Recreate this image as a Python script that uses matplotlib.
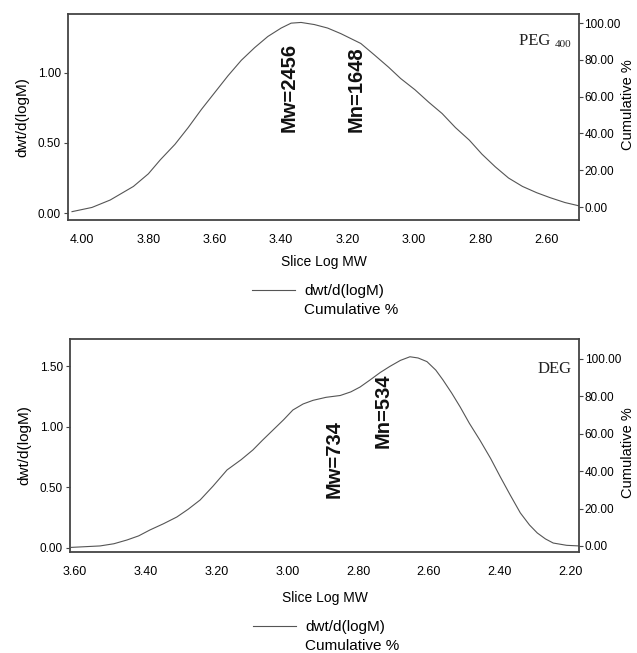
import numpy as np
import matplotlib
matplotlib.use("Agg")
from matplotlib import pyplot as plt
from matplotlib.lines import Line2D
from matplotlib.ticker import FormatStrFormatter

# PEG 400 distribution (slice log MW vs dwt/d(logM))
peg_logm = [4.03, 3.97, 3.915, 3.845, 3.80, 3.764, 3.72, 3.68, 3.64, 3.60, 3.56, 3.52,
            3.48, 3.44, 3.40, 3.37, 3.34, 3.30, 3.26, 3.22, 3.16, 3.12, 3.076, 3.04, 2.997,
            2.955, 2.915, 2.875, 2.833, 2.795, 2.755, 2.715, 2.673, 2.63, 2.59, 2.545, 2.50]
peg_dwt = [0.01, 0.04, 0.093, 0.19, 0.28, 0.38, 0.49, 0.61, 0.74, 0.86, 0.98, 1.09,
           1.18, 1.26, 1.32, 1.355, 1.36, 1.345, 1.32, 1.28, 1.21, 1.13, 1.04, 0.96, 0.88,
           0.79, 0.71, 0.61, 0.52, 0.42, 0.33, 0.25, 0.19, 0.145, 0.11, 0.075, 0.05]

# DEG distribution
deg_logm = [3.61, 3.529, 3.49, 3.453, 3.42, 3.388, 3.35, 3.312, 3.28, 3.246, 3.21, 3.17,
            3.13, 3.097, 3.07, 3.04, 3.01, 2.984, 2.955, 2.927, 2.89, 2.85, 2.82, 2.794,
            2.765, 2.737, 2.71, 2.68, 2.653, 2.63, 2.605, 2.58, 2.56, 2.535, 2.511, 2.485,
            2.455, 2.425, 2.398, 2.37, 2.341, 2.315, 2.293, 2.27, 2.248, 2.21, 2.175]
deg_dwt = [0.005, 0.017, 0.035, 0.066, 0.10, 0.149, 0.20, 0.256, 0.32, 0.397, 0.51, 0.645,
           0.73, 0.81, 0.89, 0.975, 1.06, 1.14, 1.19, 1.22, 1.245, 1.26, 1.29, 1.33,
           1.39, 1.45, 1.50, 1.55, 1.58, 1.57, 1.54, 1.47, 1.39, 1.28, 1.165, 1.03,
           0.89, 0.74, 0.59, 0.44, 0.29, 0.19, 0.124, 0.075, 0.041, 0.022, 0.017]

peg_xticks = [4.00, 3.80, 3.60, 3.40, 3.20, 3.00, 2.80, 2.60]
peg_yticks = [0.0, 0.5, 1.0]
deg_xticks = [3.60, 3.40, 3.20, 3.00, 2.80, 2.60, 2.40, 2.20]
deg_yticks = [0.0, 0.5, 1.0, 1.5]
cum_ticks = [0, 20, 40, 60, 80, 100]

# (label, log M position, bottom of text in dwt units)
peg_marks = [("Mw=2456", 3.376, 0.58), ("Mn=1648", 3.173, 0.58)]
deg_marks = [("Mw=734", 2.866, 0.41), ("Mn=534", 2.728, 0.83)]

plt.rcParams['font.family'] = ['Liberation Sans', 'DejaVu Sans']

fig = plt.figure(figsize=(6.37, 6.53), dpi=100)
line_col = "#555555"
frame_col = "#444444"


def panel(rect, logm, dwt, xlim, ylim, ylim2, xticks, yticks, marks, name, sub,
		xlabpad, cum_y, leg_y):
	ax = fig.add_axes(rect)
	ax.plot(logm, dwt, color=line_col, lw=0.8)
	ax.set_xlim(*xlim)
	ax.set_ylim(*ylim)
	ax.set_xticks(xticks)
	ax.set_yticks(yticks)
	ax.xaxis.set_major_formatter(FormatStrFormatter("%.2f"))
	ax.yaxis.set_major_formatter(FormatStrFormatter("%.2f"))
	ax.tick_params(axis="both", direction="out", length=3, color=frame_col, width=0.8)
	ax.tick_params(axis="x", labelsize=9, length=0, pad=10)
	ax.tick_params(axis="y", labelsize=8.5, pad=2)
	for s in ax.spines.values():
		s.set_color(frame_col)
		s.set_linewidth(1.3)
	ax.set_xlabel("Slice Log MW", fontsize=10, labelpad=xlabpad)
	ax.set_ylabel("dwt/d(logM)", fontsize=11, labelpad=6)

	ax2 = ax.twinx()
	ax2.set_ylim(*ylim2)
	ax2.set_yticks(cum_ticks)
	ax2.yaxis.set_major_formatter(FormatStrFormatter("%.2f"))
	ax2.tick_params(axis="y", labelsize=8.5, direction="out", length=3,
		color=frame_col, width=0.8, pad=1)
	for s in ax2.spines.values():
		s.set_visible(False)
	ax2.set_ylabel("Cumulative %", fontsize=10.5)
	ax2.yaxis.set_label_coords(1.083, cum_y)

	for txt, xm, yb in marks:
		ax.text(xm, yb, txt, rotation=90, ha="center", va="bottom",
			fontsize=14.5, fontweight="bold", color="#111111")

	if sub:
		t = ax.text(0.985, 0.84, sub, transform=ax.transAxes, ha="right", va="baseline",
			fontsize=8, family="Liberation Serif", color="#222222")
		ax.annotate(name + " ", xy=(0, 0), xycoords=t, ha="right", va="bottom",
			fontsize=12, family="Liberation Serif", color="#222222")
	else:
		ax.text(0.985, 0.84, name, transform=ax.transAxes, ha="right", va="baseline",
			fontsize=12, family="Liberation Serif", color="#222222")

	handles = [Line2D([], [], color=line_col, lw=0.8),
		Line2D([], [], color="none", lw=0)]
	ax.legend(handles, ["dwt/d(logM)", "Cumulative %"], loc="upper left",
		bbox_to_anchor=(0.36, leg_y), frameon=False, fontsize=11,
		handlelength=2.8, handletextpad=0.6, labelspacing=0.3,
		borderpad=0, borderaxespad=0)
	return ax


panel([0.1068, 0.663, 0.802, 0.3155], peg_logm, peg_dwt, (4.042, 2.503),
	(-0.05, 1.42), (-7.1, 104.9), peg_xticks, peg_yticks, peg_marks, "PEG", "400",
	6.5, 0.56, -0.31)
panel([0.1099, 0.1547, 0.7991, 0.3262], deg_logm, deg_dwt, (3.614, 2.175),
	(-0.033, 1.727), (-3.2, 110.7), deg_xticks, deg_yticks, deg_marks, "DEG", "",
	9.5, 0.465, -0.32)

plt.savefig("out.png", dpi=100)
